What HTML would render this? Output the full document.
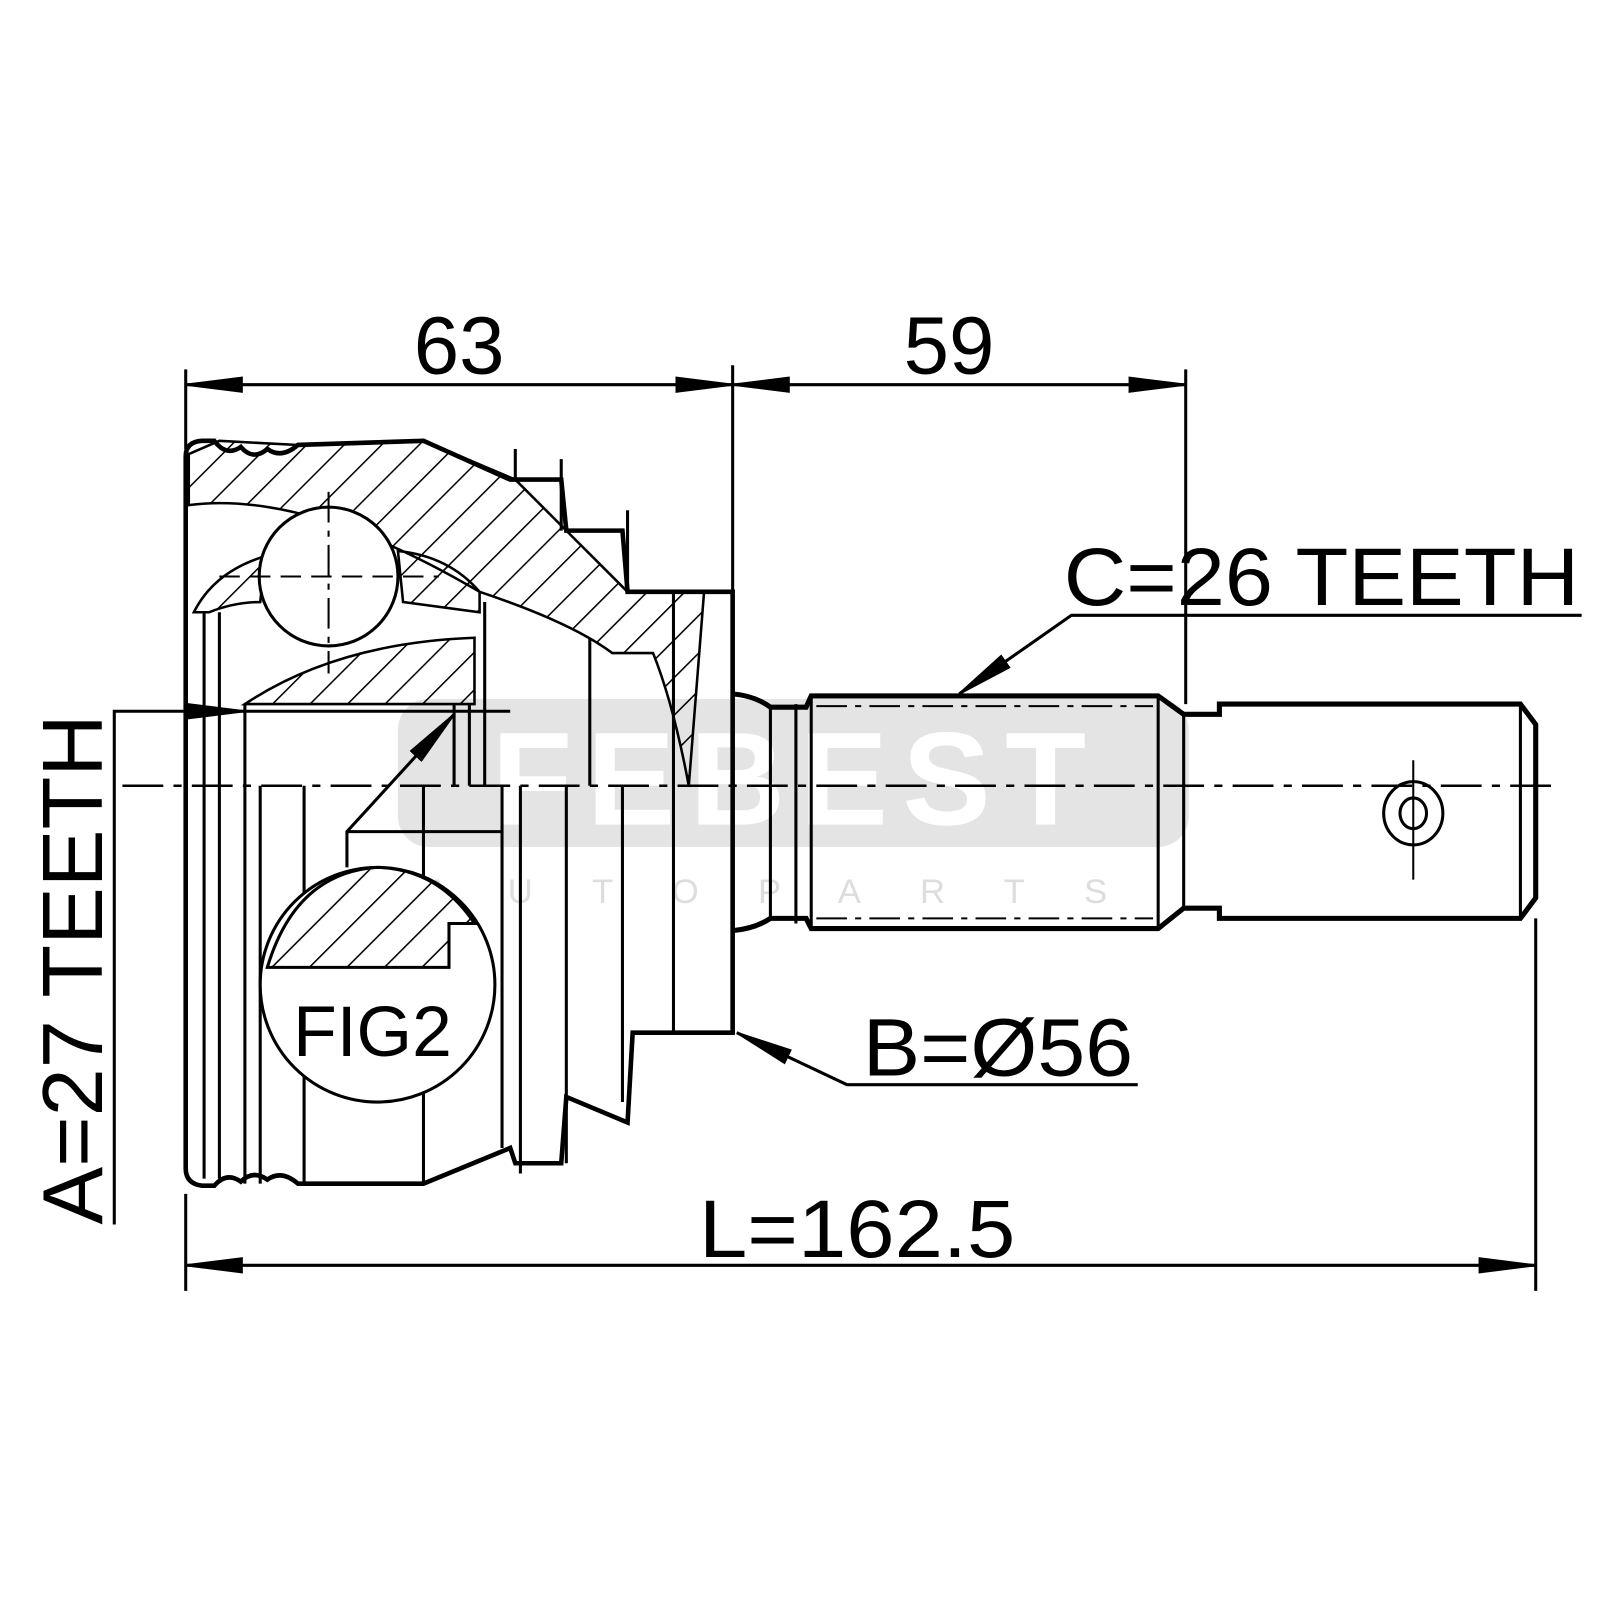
<!DOCTYPE html>
<html><head><meta charset="utf-8"><style>html,body{margin:0;padding:0;background:#fff}svg{display:block}</style></head>
<body>
<svg width="1600" height="1600" viewBox="0 0 1568 1568" xmlns="http://www.w3.org/2000/svg" font-family="Liberation Sans, Arial, sans-serif">
<defs>
<pattern id="h" patternUnits="userSpaceOnUse" width="26" height="26" patternTransform="rotate(45)"><line x1="0" y1="0" x2="0" y2="26" stroke="#000" stroke-width="3"/></pattern>
<marker id="b" viewBox="0 0 56 16" refX="56" refY="8" markerWidth="56" markerHeight="16" markerUnits="userSpaceOnUse" orient="auto-start-reverse"><path d="M0,0 L56,7 L56,9 L0,16z"/></marker>
</defs>
<rect width="1568" height="1568" fill="#fff"/>
<!-- watermark -->
<rect x="390" y="685" width="775" height="145" rx="30" fill="#e4e4e4"/>
<text x="780" y="808" font-size="130" font-weight="bold" fill="#fff" text-anchor="middle" letter-spacing="14">FEBEST</text>
<text x="780" y="885" font-size="34" fill="#ddd" text-anchor="middle" letter-spacing="58">AUTOPARTS</text>

<g stroke="#000" fill="none" stroke-width="3">
<line x1="182" y1="362" x2="182" y2="440"/>
<line x1="718" y1="358" x2="718" y2="580"/>
<line x1="1162" y1="362" x2="1162" y2="690"/>
<line x1="182" y1="1170" x2="182" y2="1265"/>
<line x1="1505" y1="900" x2="1505" y2="1265"/>
<line x1="182" y1="377" x2="718" y2="377" marker-start="url(#b)" marker-end="url(#b)"/>
<line x1="718" y1="377" x2="1162" y2="377" marker-start="url(#b)" marker-end="url(#b)"/>
<line x1="182" y1="1240" x2="1505" y2="1240" marker-start="url(#b)" marker-end="url(#b)"/>
<polyline points="1550,603 1050,603 940,680" marker-end="url(#b)"/>
<polyline points="1115,1063 830,1063 722,1012" marker-end="url(#b)"/>
<polyline points="112,1200 112,697 240,697" marker-end="url(#b)"/>
<line x1="240" y1="697" x2="500" y2="697"/>
<polyline points="340,850 340,815 445,700" marker-end="url(#b)"/>

<!-- hatched upper housing -->
<path d="M185,495 Q300,480 470,580 Q560,610 600,640 L640,640 Q660,690 675,770 L690,580 L615,580 L555,520 L505,470 L415,432 L290,436 L215,432 L185,445 Z" fill="url(#h)" stroke-width="2.5"/>
<path d="M240,690 Q330,630 465,625 L465,690 Z" fill="url(#h)" stroke-width="2.5"/>
<path d="M190,600 Q210,560 260,545 L255,590 Q230,590 205,600 Z" fill="url(#h)" stroke-width="2.5"/>
<path d="M390,540 Q440,545 470,580 L470,600 L395,590 Z" fill="url(#h)" stroke-width="2.5"/>
<!-- outer housing -->
<path d="M198,432 L210,432 Q222,448 236,438 Q248,452 262,440 Q276,450 292,436 L415,432 L500,470 L550,470 L555,520 L610,520 L615,580 L660,580 L718,580 L718,1012 L620,1012 L615,1100 L555,1075 L550,1140 L505,1140 L500,1125 L415,1160 L292,1160 Q276,1146 262,1156 Q248,1146 236,1158 Q222,1148 210,1162 L198,1162 Q182,1160 182,1145 L182,447 Q182,433 198,432 Z" stroke-width="4.5"/>
<polyline points="505,440 505,470" />
<polyline points="550,450 550,520" />
<polyline points="615,500 615,580" />
<circle cx="322" cy="565" r="68" fill="#fff"/>
<line x1="322" y1="482" x2="322" y2="660" stroke-width="2" stroke-dasharray="30,8,6,8"/>
<line x1="215" y1="565" x2="430" y2="565" stroke-width="2" stroke-dasharray="20,10"/>
<line x1="200" y1="600" x2="200" y2="1155"/>
<line x1="215" y1="600" x2="215" y2="1155"/>
<line x1="240" y1="690" x2="240" y2="1160"/>
<line x1="255" y1="770" x2="255" y2="1160"/>
<line x1="298" y1="770" x2="298" y2="1160"/>
<line x1="415" y1="770" x2="415" y2="1160"/>
<line x1="445" y1="690" x2="445" y2="770"/>
<line x1="460" y1="690" x2="460" y2="770"/>
<line x1="475" y1="590" x2="475" y2="770"/>
<line x1="492" y1="770" x2="492" y2="1125"/>
<line x1="510" y1="770" x2="510" y2="1150"/>
<line x1="555" y1="770" x2="555" y2="1140"/>
<line x1="578" y1="625" x2="578" y2="770"/>
<line x1="610" y1="770" x2="610" y2="1080"/>
<line x1="660" y1="580" x2="660" y2="1012"/>
<line x1="240" y1="697" x2="460" y2="697" stroke-width="2"/>
<line x1="340" y1="815" x2="492" y2="815"/>
<ellipse cx="370" cy="965" rx="115" ry="115" fill="#fff"/>
<path d="M262,948 L440,948 L440,905 L465,905 Q430,852 370,850 Q290,855 262,948 Z" fill="url(#h)" stroke-width="3"/>
<!-- shaft -->
<path d="M718,680 Q740,682 755,693 L790,693 L795,682 L1135,682 L1160,700 L1195,700 L1195,690 L1490,690 L1505,710 L1505,880 L1490,900 L1195,900 L1195,890 L1160,890 L1135,910 L795,910 L790,900 L755,900 Q740,910 718,912" stroke-width="5"/>
<line x1="755" y1="693" x2="755" y2="900"/>
<line x1="780" y1="690" x2="780" y2="905"/>
<line x1="795" y1="682" x2="795" y2="910"/>
<line x1="1135" y1="682" x2="1135" y2="910"/>
<line x1="1160" y1="700" x2="1160" y2="890"/>
<line x1="1490" y1="690" x2="1490" y2="900"/>
<line x1="800" y1="692" x2="1130" y2="692" stroke-width="2" stroke-dasharray="30,8,6,8"/>
<line x1="800" y1="900" x2="1130" y2="900" stroke-width="2" stroke-dasharray="30,8,6,8"/>
<ellipse cx="1385" cy="797" rx="29" ry="31"/>
<ellipse cx="1385" cy="797" rx="13" ry="15"/>
<line x1="1385" y1="745" x2="1385" y2="862" stroke-width="2"/>
<line x1="120" y1="770" x2="1525" y2="770" stroke-width="2.5" stroke-dasharray="40,10,8,10"/>
</g>

<g fill="#000" font-size="80">
<text x="450" y="366" text-anchor="middle">63</text>
<text x="930" y="366" text-anchor="middle">59</text>
<text x="1295" y="593" text-anchor="middle" textLength="505" lengthAdjust="spacingAndGlyphs">C=26 TEETH</text>
<text x="978" y="1054" text-anchor="middle" textLength="265" lengthAdjust="spacingAndGlyphs">B=Ø56</text>
<text x="840" y="1232" text-anchor="middle" textLength="310" lengthAdjust="spacingAndGlyphs">L=162.5</text>
<text x="365" y="1035" text-anchor="middle" font-size="70">FIG2</text>
<text transform="translate(100,950) rotate(-90)" text-anchor="middle" font-size="84" textLength="500" lengthAdjust="spacingAndGlyphs">A=27 TEETH</text>
</g>
</svg>
</body></html>
